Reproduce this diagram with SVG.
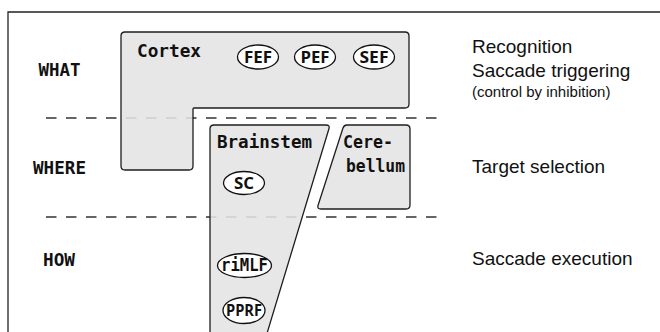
<svg xmlns="http://www.w3.org/2000/svg" width="660" height="332" viewBox="0 0 660 332">
  <style>
    .frame { fill: none; stroke: #222; stroke-width: 1.3; }
    .level { fill: none; stroke: #333; stroke-width: 1.6; stroke-dasharray: 10.5 9.5; }
    .region { fill: #e4e4e4; fill-opacity: 0.88; stroke: #1e1e1e; stroke-width: 1.3; stroke-linejoin: round; }
    .area { fill: #fff; stroke: #111; stroke-width: 1.3; }
    .mono { font-family: "DejaVu Sans Mono", "Liberation Mono", monospace; font-weight: bold; font-size: 17px; fill: #111; }
    .tier { font-family: "DejaVu Sans Mono", "Liberation Mono", monospace; font-weight: bold; font-size: 17px; fill: #111; text-anchor: middle; }
    .abbr { font-family: "Open Sans", "DejaVu Sans", sans-serif; font-weight: bold; font-size: 16px; fill: #111; text-anchor: middle; }
    .func { font-family: "Liberation Sans", Arial, sans-serif; font-size: 19px; fill: #111; }
    .note { font-size: 15px; }
  </style>

  <rect width="660" height="332" fill="#fff"/>

  <!-- open frame: top and left sides only -->
  <path class="frame" d="M8,332 V12 H660"/>

  <!-- level separators -->
  <g id="connectors">
    <line class="level" x1="46" y1="118" x2="446" y2="118"/>
    <line class="level" x1="46" y1="217" x2="446" y2="217"/>
  </g>

  <!-- tier labels -->
  <g id="tiers">
    <text class="tier" x="59.5" y="76" textLength="42" lengthAdjust="spacingAndGlyphs">WHAT</text>
    <text class="tier" x="59.5" y="174" textLength="53" lengthAdjust="spacingAndGlyphs">WHERE</text>
    <text class="tier" x="59" y="266" textLength="32" lengthAdjust="spacingAndGlyphs">HOW</text>
  </g>

  <g id="cortex">
    <path class="region" d="M125,32 H405 Q409,32 409,36 V104 Q409,108 405,108 H194 Q193,108 193,109 V166 Q193,170 189,170 H125 Q121,170 121,166 V36 Q121,32 125,32 Z"/>
    <text class="mono" x="137" y="57" textLength="64" lengthAdjust="spacingAndGlyphs">Cortex</text>
  </g>

  <g id="fef">
    <ellipse class="area" cx="258" cy="57" rx="20.5" ry="12"/>
    <text class="abbr" x="258" y="62.5" textLength="28" lengthAdjust="spacingAndGlyphs">FEF</text>
  </g>
  <g id="pef">
    <ellipse class="area" cx="315" cy="57" rx="20.5" ry="12"/>
    <text class="abbr" x="315" y="62.5" textLength="29" lengthAdjust="spacingAndGlyphs">PEF</text>
  </g>
  <g id="sef">
    <ellipse class="area" cx="374" cy="57" rx="20.5" ry="12"/>
    <text class="abbr" x="374" y="62.5" textLength="29" lengthAdjust="spacingAndGlyphs">SEF</text>
  </g>

  <g id="brainstem">
    <path class="region" d="M210,340 V129 Q210,125 214,125 H326 Q330,125 329,128.5 L265,340 Z"/>
    <text class="mono" x="217" y="148" textLength="95" lengthAdjust="spacingAndGlyphs">Brainstem</text>
  </g>

  <g id="sc">
    <ellipse class="area" cx="244" cy="183" rx="20.5" ry="11.5"/>
    <text class="abbr" x="244" y="188.5" textLength="20" lengthAdjust="spacingAndGlyphs">SC</text>
  </g>
  <g id="rimlf">
    <ellipse class="area" cx="244.5" cy="265.5" rx="27" ry="12"/>
    <text class="mono" x="244.5" y="271" text-anchor="middle" textLength="47" lengthAdjust="spacingAndGlyphs">riMLF</text>
  </g>
  <g id="pprf">
    <ellipse class="area" cx="244" cy="310.5" rx="21" ry="13"/>
    <text class="abbr" x="244" y="316" textLength="36" lengthAdjust="spacingAndGlyphs">PPRF</text>
  </g>

  <g id="cerebellum">
    <path class="region" d="M347,125 H406 Q410,125 410,129 V205 Q410,209 406,209 H321 Q317,209 318,205.5 L343,128 Q344,125 347,125 Z"/>
    <text class="mono" x="343" y="148" textLength="50" lengthAdjust="spacingAndGlyphs">Cere-</text>
    <text class="mono" x="346" y="172" textLength="59" lengthAdjust="spacingAndGlyphs">bellum</text>
  </g>

  <!-- functions of each tier -->
  <g id="functions">
    <text class="func" x="472" y="53">Recognition</text>
    <text class="func" x="472" y="77">Saccade triggering</text>
    <text class="func note" x="472" y="97">(control by inhibition)</text>
    <text class="func" x="472" y="173">Target selection</text>
    <text class="func" x="472" y="265">Saccade execution</text>
  </g>
</svg>
